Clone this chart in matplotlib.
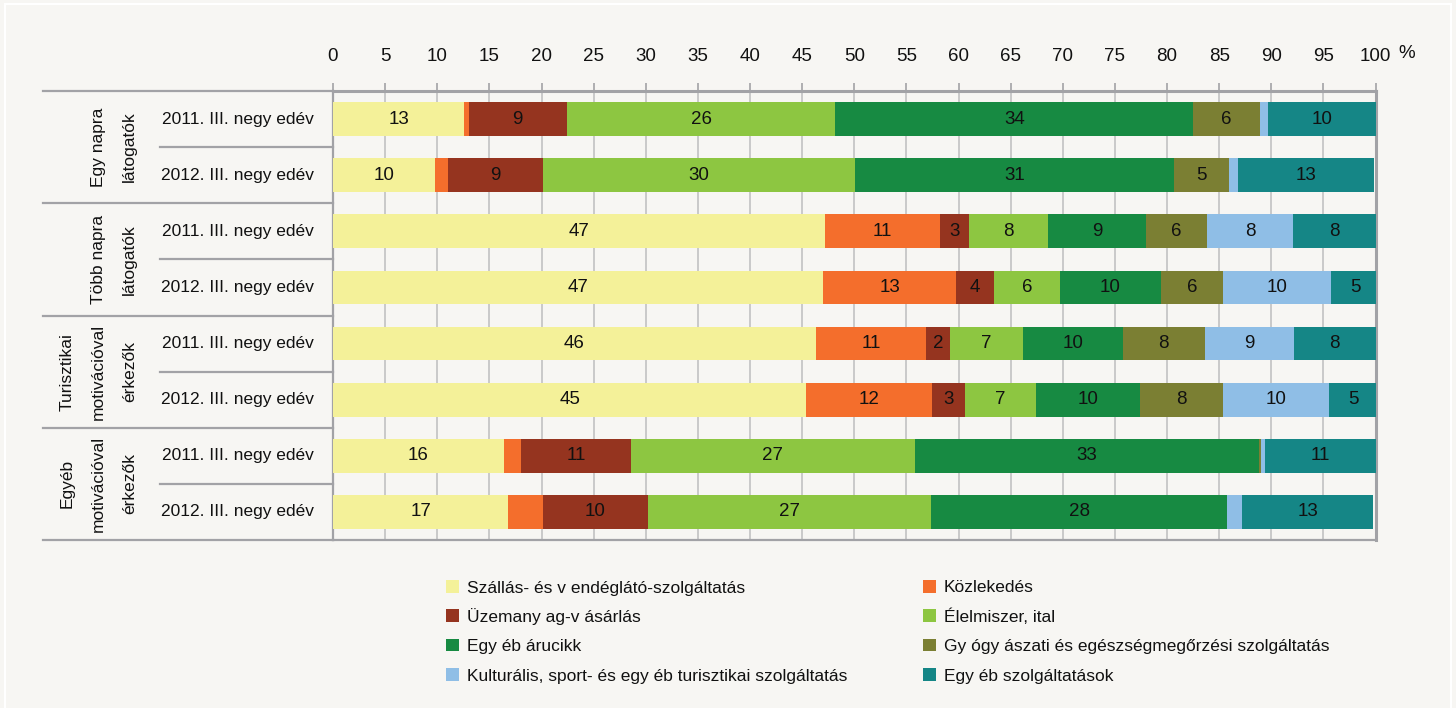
import matplotlib
matplotlib.use("Agg")
import matplotlib.pyplot as plt
import matplotlib.transforms as mtrans
from matplotlib.patches import Rectangle

# ---------------- data ----------------
groups = ["Egy napra\nlátogatók", "Több napra\nlátogatók",
          "Turisztikai\nmotivációval\nérkezők", "Egyéb\nmotivációval\nérkezők"]
periods = ["2011. III. negy edév", "2012. III. negy edév"]

series_names = [
    "Szállás- és v endéglátó-szolgáltatás",
    "Közlekedés",
    "Üzemany ag-v ásárlás",
    "Élelmiszer, ital",
    "Egy éb árucikk",
    "Gy ógy ászati és egészségmegőrzési szolgáltatás",
    "Kulturális, sport- és egy éb turisztikai szolgáltatás",
    "Egy éb szolgáltatások",
]
colors = ["#f4f199", "#f46e2c", "#95341f", "#8dc641",
          "#178a42", "#7b7f33", "#8fbee6", "#158686"]

# rows: group1 2011, 2012, group2 2011, 2012, ...
szallas       = [12.6,  9.8, 47.2, 47.0, 46.3, 45.4, 16.4, 16.8]
kozlekedes    = [ 0.4,  1.2, 11.0, 12.8, 10.6, 12.1,  1.6,  3.3]
uzemanyag     = [ 9.4,  9.1,  2.8,  3.6,  2.3,  3.1, 10.6, 10.1]
elelmiszer    = [25.8, 30.0,  7.6,  6.3,  7.0,  6.8, 27.2, 27.2]
egyeb_arucikk = [34.3, 30.6,  9.4,  9.7,  9.6, 10.0, 33.0, 28.4]
gyogyaszati   = [ 6.4,  5.2,  5.8,  6.0,  7.8,  8.0,  0.2,  0.0]
kulturalis    = [ 0.8,  0.9,  8.3, 10.3,  8.6, 10.1,  0.4,  1.4]
egyeb_szolg   = [10.3, 13.1,  7.9,  4.7,  7.8,  4.7, 10.6, 12.6]
series_values = [szallas, kozlekedes, uzemanyag, elelmiszer,
                 egyeb_arucikk, gyogyaszati, kulturalis, egyeb_szolg]

x_ticks = list(range(0, 101, 5))
min_label = 2.0
hidden_labels = {(7, 1)}  # (row, series) labels not shown in the original

# ---------------- style ----------------
FONT = ["Liberation Sans Narrow", "Liberation Sans", "DejaVu Sans"]
plt.rcParams["font.family"] = FONT
FS = 13.5      # numbers
FS_T = 12.5    # words
BG = "#f7f6f3"
AX_GRAY = "#a2a2a6"
GRID_GRAY = "#c9c9c9"
TXT = "#111111"

W, H = 1456, 708
fig = plt.figure(figsize=(W / 100, H / 100), dpi=100, facecolor=BG)

def fx(px):
    return px / W

def fy(py):
    return 1 - py / H

ax_l, ax_r, ax_t, ax_b = 333, 1375.5, 91, 540
ax = fig.add_axes([fx(ax_l), fy(ax_b), fx(ax_r - ax_l), (ax_b - ax_t) / H])
ax.set_facecolor(BG)

n_rows = len(szallas)
rows = list(range(n_rows))
left = [0.0] * n_rows
for si, (vals, col) in enumerate(zip(series_values, colors)):
    bars = ax.barh(rows, vals, left=left, height=0.6, color=col,
                   edgecolor="none", label=series_names[si], zorder=3)
    for ri, v in enumerate(vals):
        if v >= min_label and (ri, si) not in hidden_labels:
            ax.text(left[ri] + v / 2, ri, f"{v:.0f}", ha="center", va="center",
                    fontsize=FS, color=TXT, zorder=4)
    left = [l + v for l, v in zip(left, vals)]

ax.set_xlim(0, 100)
ax.set_ylim(n_rows - 0.5, -0.5)
ax.xaxis.tick_top()
ax.set_xticks(x_ticks)
ax.set_xticklabels([str(t) for t in x_ticks], fontsize=FS, color=TXT)
ax.tick_params(axis="x", direction="out", length=6, width=1.2,
               color=AX_GRAY, pad=13)
ax.set_yticks([])
ax.grid(axis="x", color=GRID_GRAY, linewidth=1.4, zorder=0)
ax.set_axisbelow(True)
for side, lw in [("top", 2.2), ("right", 2.2), ("left", 1.6), ("bottom", 1.6)]:
    ax.spines[side].set_color(AX_GRAY)
    ax.spines[side].set_linewidth(lw)

# "%" after 100, at tick-label height
ax.text(102.2, 1 + (91 - 53) / (ax_b - ax_t), "%",
        transform=mtrans.blended_transform_factory(ax.transData, ax.transAxes),
        fontsize=FS, color=TXT, ha="left", va="center")

# ---------------- row / group table on the left ----------------
tr = mtrans.blended_transform_factory(fig.transFigure, ax.transData)
for g in range(len(groups) + 1):
    y = g * 2 - 0.5
    ax.plot([fx(43), fx(ax_l)], [y, y], transform=tr, color=AX_GRAY,
            lw=1.6, clip_on=False, zorder=5)
for g in range(len(groups)):
    y = g * 2 + 0.5
    ax.plot([fx(160), fx(ax_l)], [y, y], transform=tr, color=AX_GRAY,
            lw=1.6, clip_on=False, zorder=5)
    ax.text(fx(137), g * 2 + 0.5, groups[g], transform=tr, rotation=90,
            ha="right", va="center", multialignment="center",
            linespacing=2.35, fontsize=FS_T, color=TXT)
for r in rows:
    ax.text(fx(237.5), r, periods[r % 2], transform=tr, ha="center",
            va="center", fontsize=FS_T, color=TXT)

# ---------------- legend (2 columns, row-major order) ----------------
leg_x = [446, 923]
leg_y = [586.5, 615.5, 645, 674.5]
sq = 12.5
for i, (name, col) in enumerate(zip(series_names, colors)):
    cx = leg_x[i % 2]
    cy = leg_y[i // 2]
    fig.patches.append(Rectangle((fx(cx), fy(cy + sq / 2)), fx(sq), sq / H,
                                 transform=fig.transFigure, facecolor=col,
                                 edgecolor="none"))
    fig.text(fx(cx + sq + 8), fy(cy), name, ha="left", va="center_baseline",
             fontsize=FS_T, color=TXT)

# white inset frame
fig.patches.append(Rectangle((fx(5), fy(715)), fx(1446), (715 - 4) / H,
                             transform=fig.transFigure, fill=False,
                             edgecolor="white", linewidth=1.5))

fig.savefig("out.png", dpi=100, facecolor=BG)
